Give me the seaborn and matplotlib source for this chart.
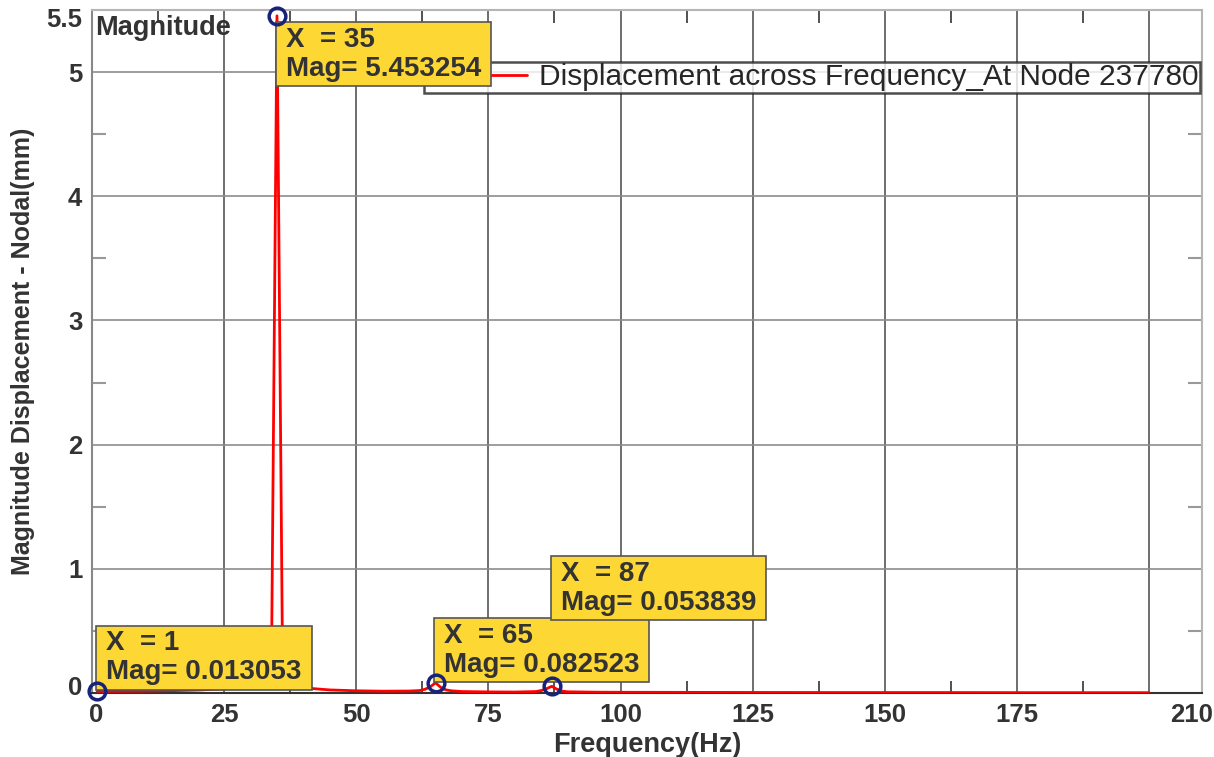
import numpy as np
import pandas as pd
import matplotlib
matplotlib.use("Agg")
import matplotlib.pyplot as plt
import matplotlib.transforms as mtransforms
import seaborn as sns

# frequency response (Hz, mm)
freq = [1, 5, 10, 15, 20, 25, 28, 30, 32, 33, 34, 35, 36, 37, 38, 39, 40, 42, 45,
        50, 55, 60, 62, 63, 64, 65, 66, 67, 68, 70, 75, 80, 84, 85, 86, 87, 88,
        89, 90, 95, 100, 120, 140, 160, 180, 200]
mag = [0.013053, 0.014, 0.016, 0.019, 0.024, 0.034, 0.045, 0.06, 0.1, 0.16, 0.45,
       5.453254, 0.5, 0.14, 0.08, 0.055, 0.045, 0.035, 0.025,
       0.018, 0.015, 0.016, 0.02, 0.03, 0.05, 0.082523, 0.045, 0.025, 0.018,
       0.012, 0.009, 0.008, 0.012, 0.02, 0.035, 0.053839, 0.03,
       0.015, 0.01, 0.007, 0.006, 0.005, 0.004, 0.004, 0.003, 0.003]

# data tips
tip_x = [35, 1, 65, 87]
tip_mag = [5.453254, 0.013053, 0.082523, 0.053839]

x_ticks = [0, 25, 50, 75, 100, 125, 150, 175, 200, 210]
x_labels = ["0", "25", "50", "75", "100", "125", "150", "175", "", "210"]
y_ticks = [0, 1, 2, 3, 4, 5, 5.5]
y_labels = ["0", "1", "2", "3", "4", "5", "5.5"]

series_name = "Displacement across Frequency_At Node 237780"

df = pd.DataFrame({"Frequency": freq, "Mag": mag})

sns.set_style("white")
plt.rcParams["font.family"] = ["Liberation Sans", "DejaVu Sans"]

fig = plt.figure(figsize=(12.14, 7.57), dpi=100)
ax = fig.add_axes([0.0758, 0.0845, 0.9142, 0.9023])

sns.lineplot(data=df, x="Frequency", y="Mag", ax=ax, color="red", lw=2,
             label=series_name, zorder=3)

ax.plot(tip_x, tip_mag, "o", ms=12, mfc="none", mec="#17237a", mew=2.5,
        zorder=7, clip_on=False)

ax.set_xlim(0, 210)
ax.set_ylim(0, 5.5)
ax.set_xticks(x_ticks)
ax.set_xticklabels(x_labels)
ax.set_yticks(y_ticks)
ax.set_yticklabels(y_labels)
ax.set_xticks([12.5, 37.5, 62.5, 87.5, 112.5, 137.5, 162.5, 187.5], minor=True)
ax.set_yticks([0.5, 1.5, 2.5, 3.5, 4.5], minor=True)

ax.xaxis.grid(True, which="major", color="#555555", lw=1.2)
ax.yaxis.grid(True, which="major", color="#8c8c8c", lw=1.2)
ax.tick_params(which="major", direction="in", length=0, labelsize=18.5,
               labelcolor="#333333", pad=7)
ax.tick_params(axis="x", which="minor", direction="in", length=9, width=1.2,
               color="#333333", top=True, bottom=True)
ax.tick_params(axis="y", which="minor", direction="in", length=10, width=1.5,
               color="#999999", left=True, right=True)
for lab in ax.get_xticklabels() + ax.get_yticklabels():
    lab.set_fontweight("bold")


def nudge(label, dx_px, dy_px):
    off = mtransforms.ScaledTranslation(dx_px / 100, dy_px / 100, fig.dpi_scale_trans)
    label.set_transform(label.get_transform() + off)


# end labels sit a little inside the axes, like the original
nudge(ax.get_xticklabels()[-1], -10, 0)
nudge(ax.get_xticklabels()[0], 4, 0)
nudge(ax.get_yticklabels()[0], 0, 8)
nudge(ax.get_yticklabels()[-1], 0, -8)

for side, col in [("bottom", "#333333"), ("left", "#888888"),
                  ("top", "#b5b5b5"), ("right", "#b5b5b5")]:
    ax.spines[side].set_visible(True)
    ax.spines[side].set_color(col)
    ax.spines[side].set_linewidth(1.5)

ax.set_xlabel("Frequency(Hz)", fontsize=19.5, fontweight="bold", color="#333333",
              labelpad=4)
ax.set_ylabel("Magnitude Displacement - Nodal(mm)", fontsize=18,
              fontweight="bold", color="#333333", labelpad=8)
ax.text(0.003, 0.993, "Magnitude", transform=ax.transAxes, ha="left", va="top",
        fontsize=19.5, fontweight="bold", color="#333333", zorder=8)

leg = ax.legend(loc="upper right", bbox_to_anchor=(0.998, 0.924),
                borderaxespad=0, fontsize=21.5, frameon=True, fancybox=False,
                handlelength=3.4, handletextpad=0.4, borderpad=0.05)
leg.get_frame().set_edgecolor("#222222")
leg.get_frame().set_linewidth(1.8)
leg.set_zorder(5)
for line in leg.get_lines():
    line.set_linewidth(2)

# data tip boxes
box = dict(boxstyle="square,pad=0.36", mutation_aspect=0.45, fc="#fdd835",
           ec="#555555", lw=1.2)
offsets = [(6.5, -8, "left", "top"), (6.5, 4.3, "left", "bottom"),
           (5.8, 3.6, "left", "bottom"), (6.5, 51, "left", "bottom")]
for xv, yv, (dx, dy, ha, va) in zip(tip_x, tip_mag, offsets):
    ax.annotate(f"X  = {xv}\nMag= {yv:.6f}", xy=(xv, yv), xytext=(dx, dy),
                textcoords="offset points", ha=ha, va=va, fontsize=20,
                fontweight="bold", color="#333333", bbox=box, zorder=6,
                linespacing=1.15, annotation_clip=False)

fig.savefig("out.png", dpi=100)
